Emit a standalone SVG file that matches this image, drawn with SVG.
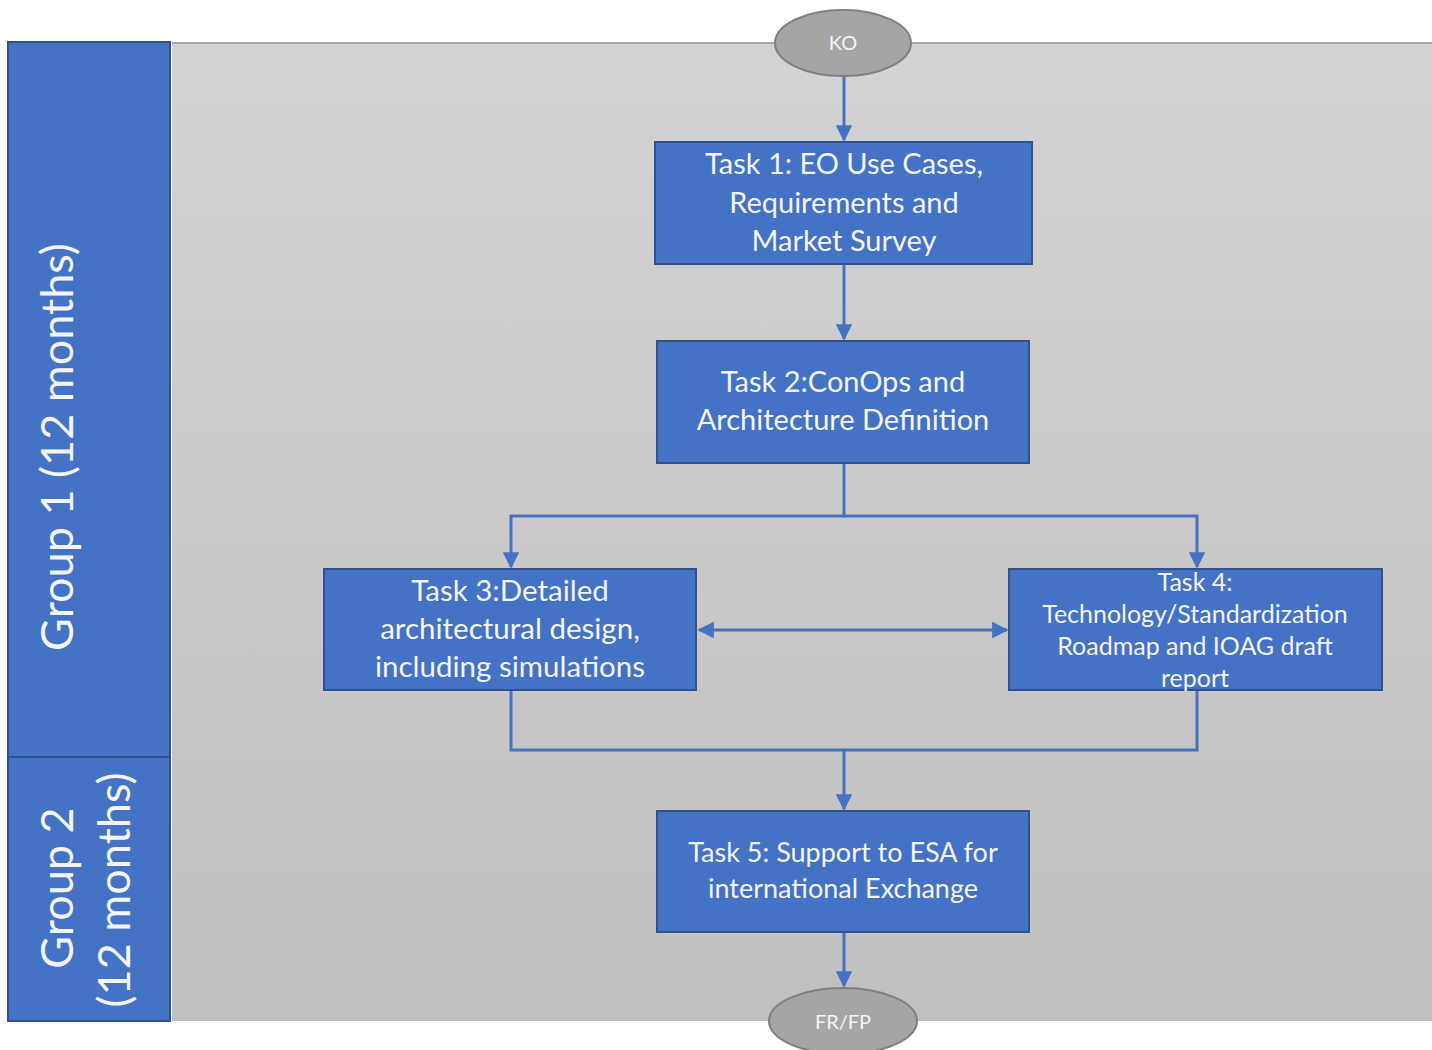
<svg xmlns="http://www.w3.org/2000/svg" width="1432" height="1050" viewBox="0 0 1432 1050">
<defs>
<linearGradient id="bg" x1="0" y1="0" x2="0" y2="1">
<stop offset="0" stop-color="#d3d3d3"/>
<stop offset="1" stop-color="#c0c0c0"/>
</linearGradient>
<marker id="ah" viewBox="0 0 10 10" refX="9" refY="5" markerWidth="5.5" markerHeight="5.5" orient="auto-start-reverse" markerUnits="strokeWidth">
<path d="M0,0 L10,5 L0,10 z" fill="#4472c4"/>
</marker>
<style>
.box{fill:#4472c4;stroke:#2f528f;stroke-width:2}
.lane{fill:#4472c4;stroke:#2f528f;stroke-width:2}
.ell{fill:#a5a5a5;stroke:#7f7f7f;stroke-width:2}
.t{font-family:Lato,"Open Sans","Liberation Sans",sans-serif;fill:#f4f4f4;text-anchor:middle}
.c{fill:none;stroke:#4472c4;stroke-width:3}
</style>
</defs>
<rect x="0" y="0" width="1432" height="1050" fill="#ffffff"/>
<g id="background">
<rect x="172" y="42" width="1262" height="979" fill="url(#bg)"/>
<line x1="172" y1="43" x2="1432" y2="43" stroke="#a6a6a6" stroke-width="2"/>
</g>
<g id="lane-group1">
<rect class="lane" x="8" y="42" width="162" height="715"/>
<text class="t" font-size="45" transform="translate(73,447) rotate(-90)">Group 1 (12 months)</text>
</g>
<g id="lane-group2">
<rect class="lane" x="8" y="757" width="162" height="264"/>
<text class="t" font-size="45" transform="translate(73,888) rotate(-90)">Group 2</text>
<text class="t" font-size="45" transform="translate(130,890) rotate(-90)">(12 months)</text>
</g>
<g id="connectors">
<line class="c" x1="844" y1="77" x2="844" y2="140" marker-end="url(#ah)"/>
<line class="c" x1="844" y1="265" x2="844" y2="339" marker-end="url(#ah)"/>
<polyline class="c" points="844,464 844,516 511,516 511,567" marker-end="url(#ah)"/>
<polyline class="c" points="844,516 1197,516 1197,567" marker-end="url(#ah)"/>
<line class="c" x1="699" y1="630" x2="1007" y2="630" marker-start="url(#ah)" marker-end="url(#ah)"/>
<polyline class="c" points="511,691 511,750 1197,750 1197,691"/>
<line class="c" x1="844" y1="750" x2="844" y2="809" marker-end="url(#ah)"/>
<line class="c" x1="844" y1="933" x2="844" y2="986" marker-end="url(#ah)"/>
</g>
<g id="ko">
<ellipse class="ell" cx="843" cy="43" rx="68" ry="33"/>
<text class="t" font-size="20" x="843" y="50">KO</text>
</g>
<g id="task1">
<rect class="box" x="655" y="142" width="377" height="122"/>
<text class="t" font-size="29" x="844" y="174">Task 1: EO Use Cases,</text>
<text class="t" font-size="29" x="844" y="213">Requirements and</text>
<text class="t" font-size="29" x="844" y="251">Market Survey</text>
</g>
<g id="task2">
<rect class="box" x="657" y="341" width="372" height="122"/>
<text class="t" font-size="29" x="843" y="392">Task 2:ConOps and</text>
<text class="t" font-size="29" x="843" y="430">Architecture Definition</text>
</g>
<g id="task3">
<rect class="box" x="324" y="569" width="372" height="121"/>
<text class="t" font-size="29.5" x="510" y="601">Task 3:Detailed</text>
<text class="t" font-size="29.5" x="510" y="639">architectural design,</text>
<text class="t" font-size="29.5" x="510" y="677">including simulations</text>
</g>
<g id="task4">
<rect class="box" x="1009" y="569" width="373" height="121"/>
<text class="t" font-size="25" x="1195" y="591">Task 4:</text>
<text class="t" font-size="25" x="1195" y="623">Technology/Standardization</text>
<text class="t" font-size="25" x="1195" y="655">Roadmap and IOAG draft</text>
<text class="t" font-size="25" x="1195" y="687">report</text>
</g>
<g id="task5">
<rect class="box" x="657" y="811" width="372" height="121"/>
<text class="t" font-size="27" x="843" y="862">Task 5: Support to ESA for</text>
<text class="t" font-size="27" x="843" y="898">international Exchange</text>
</g>
<g id="frfp">
<ellipse class="ell" cx="843" cy="1021" rx="74" ry="33"/>
<text class="t" font-size="20" x="843" y="1029">FR/FP</text>
</g>
</svg>
